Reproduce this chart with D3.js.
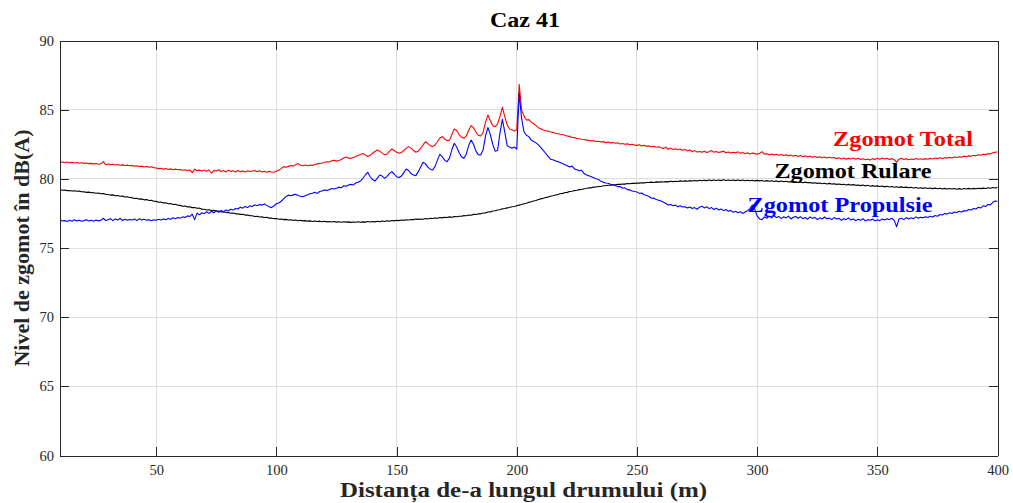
<!DOCTYPE html>
<html>
<head>
<meta charset="utf-8">
<script src="https://cdn.jsdelivr.net/npm/d3@7"></script>
<style>
  html, body { margin: 0; padding: 0; background: #fff; }
  svg { display: block; }
  text { font-family: "Liberation Serif", "Times New Roman", serif; }
</style>
</head>
<body>
<svg id="chart" width="1013" height="503"></svg>
<script>
// Distance along the road: one sample per metre, from 10 m to 400 m
const distanceStart = 10;
const distanceStep = 1;

// Total noise level, dB(A)
const totalNoise = [
  81.24, 81.21, 81.18, 81.22, 81.16, 81.19, 81.15, 81.18, 81.13, 81.16,
  81.12, 81.14, 81.10, 81.12, 81.08, 81.11, 81.06, 81.09, 81.24, 81.02,
  81.07, 81.03, 81.05, 81.00, 81.03, 80.98, 81.01, 80.96, 80.99, 80.94,
  80.97, 80.92, 80.95, 80.89, 80.92, 80.86, 80.90, 80.84, 80.87, 80.81,
  80.78, 80.74, 80.77, 80.70, 80.74, 80.67, 80.72, 80.65, 80.70, 80.66,
  80.68, 80.62, 80.66, 80.60, 80.64, 80.45, 80.70, 80.58, 80.63, 80.57,
  80.62, 80.55, 80.64, 80.42, 80.61, 80.56, 80.66, 80.53, 80.60, 80.50,
  80.62, 80.54, 80.58, 80.50, 80.60, 80.52, 80.57, 80.49, 80.58, 80.53,
  80.56, 80.60, 80.52, 80.58, 80.50, 80.55, 80.48, 80.54, 80.50, 80.47,
  80.55, 80.62, 80.74, 80.88, 80.84, 80.90, 80.96, 80.92, 81.02, 81.10,
  80.98, 80.95, 81.00, 80.94, 81.00, 80.97, 81.04, 81.08, 81.12, 81.15,
  81.20, 81.24, 81.22, 81.30, 81.35, 81.28, 81.32, 81.40, 81.50, 81.58,
  81.50, 81.48, 81.55, 81.62, 81.70, 81.76, 81.84, 81.72, 81.62, 81.70,
  81.85, 81.98, 82.08, 82.00, 81.86, 81.75, 81.78, 81.98, 82.16, 82.05,
  81.92, 81.85, 81.90, 82.05, 82.20, 82.33, 82.22, 82.05, 81.92, 82.00,
  82.20, 82.45, 82.68, 82.55, 82.40, 82.33, 82.45, 82.70, 82.95, 83.05,
  82.88, 82.76, 82.80, 83.20, 83.60, 83.50, 83.20, 83.02, 82.93, 83.10,
  83.50, 83.85, 83.70, 83.40, 83.15, 83.10, 83.35, 84.10, 84.62, 84.20,
  83.85, 83.77, 83.95, 84.50, 85.17, 84.50, 83.90, 83.60, 83.55, 83.45,
  83.55, 86.83, 84.98, 84.55, 84.25, 84.28, 84.10, 83.98, 83.85, 83.70,
  83.62, 83.53, 83.48, 83.45, 83.38, 83.36, 83.30, 83.28, 83.22, 83.20,
  83.15, 83.10, 83.05, 83.00, 82.98, 82.92, 82.90, 82.86, 82.84, 82.80,
  82.78, 82.74, 82.76, 82.70, 82.72, 82.66, 82.69, 82.62, 82.66, 82.60,
  82.62, 82.57, 82.60, 82.52, 82.56, 82.50, 82.53, 82.46, 82.50, 82.44,
  82.42, 82.46, 82.38, 82.42, 82.35, 82.38, 82.32, 82.36, 82.28, 82.32,
  82.25, 82.20, 82.28, 82.14, 82.22, 82.12, 82.18, 82.10, 82.15, 82.06,
  82.12, 82.02, 82.08, 81.96, 82.04, 81.94, 81.98, 81.92, 82.00, 81.90,
  81.96, 82.04, 81.92, 81.98, 81.90, 81.95, 82.00, 81.88, 81.94, 81.86,
  81.92, 81.88, 81.95, 81.84, 81.90, 81.82, 81.88, 81.80, 81.86, 81.82,
  81.78, 81.85, 81.96, 81.78, 81.82, 81.74, 81.80, 81.72, 81.78, 81.70,
  81.76, 81.68, 81.74, 81.66, 81.72, 81.64, 81.70, 81.62, 81.68, 81.60,
  81.66, 81.58, 81.64, 81.56, 81.62, 81.55, 81.60, 81.52, 81.58, 81.50,
  81.56, 81.50, 81.54, 81.46, 81.52, 81.44, 81.50, 81.42, 81.48, 81.44,
  81.50, 81.42, 81.48, 81.40, 81.45, 81.38, 81.44, 81.36, 81.46, 81.40,
  81.48, 81.42, 81.50, 81.44, 81.48, 81.40, 81.46, 81.38, 81.20, 81.42,
  81.48, 81.40, 81.46, 81.38, 81.44, 81.40, 81.47, 81.41, 81.45, 81.40,
  81.46, 81.42, 81.48, 81.44, 81.50, 81.46, 81.52, 81.47, 81.53, 81.50,
  81.55, 81.50, 81.58, 81.54, 81.60, 81.56, 81.64, 81.60, 81.66, 81.63,
  81.70, 81.66, 81.74, 81.70, 81.78, 81.75, 81.82, 81.80, 81.88, 81.92,
  81.95
];

// Rolling noise level, dB(A)
const rollingNoise = [
  79.20, 79.18, 79.19, 79.15, 79.16, 79.12, 79.14, 79.10, 79.11, 79.07,
  79.06, 79.02, 79.04, 78.99, 79.00, 78.96, 78.97, 78.92, 78.93, 78.88,
  78.87, 78.82, 78.84, 78.78, 78.79, 78.74, 78.75, 78.69, 78.70, 78.65,
  78.64, 78.58, 78.60, 78.53, 78.55, 78.48, 78.50, 78.43, 78.45, 78.38,
  78.37, 78.31, 78.33, 78.26, 78.27, 78.20, 78.22, 78.15, 78.16, 78.09,
  78.08, 78.02, 78.03, 77.97, 77.98, 77.92, 77.93, 77.87, 77.88, 77.81,
  77.80, 77.75, 77.77, 77.71, 77.72, 77.66, 77.67, 77.61, 77.62, 77.57,
  77.56, 77.51, 77.53, 77.47, 77.48, 77.43, 77.44, 77.38, 77.39, 77.34,
  77.33, 77.28, 77.30, 77.24, 77.25, 77.20, 77.22, 77.16, 77.17, 77.12,
  77.13, 77.08, 77.10, 77.05, 77.07, 77.02, 77.04, 77.00, 77.02, 76.97,
  77.00, 76.96, 76.98, 76.94, 76.96, 76.92, 76.95, 76.91, 76.94, 76.90,
  76.93, 76.89, 76.92, 76.88, 76.91, 76.87, 76.90, 76.86, 76.90, 76.87,
  76.89, 76.85, 76.88, 76.86, 76.90, 76.86, 76.89, 76.87, 76.91, 76.88,
  76.91, 76.89, 76.93, 76.90, 76.95, 76.92, 76.97, 76.94, 76.99, 76.96,
  77.00, 76.98, 77.02, 77.00, 77.04, 77.02, 77.06, 77.05, 77.09, 77.07,
  77.10, 77.08, 77.13, 77.10, 77.15, 77.13, 77.17, 77.15, 77.20, 77.18,
  77.22, 77.20, 77.25, 77.22, 77.27, 77.26, 77.30, 77.29, 77.34, 77.33,
  77.38, 77.37, 77.43, 77.42, 77.48, 77.47, 77.53, 77.54, 77.60, 77.61,
  77.68, 77.69, 77.75, 77.77, 77.83, 77.85, 77.90, 77.93, 77.98, 78.00,
  78.05, 78.10, 78.14, 78.20, 78.24, 78.30, 78.34, 78.40, 78.44, 78.50,
  78.55, 78.59, 78.65, 78.68, 78.74, 78.78, 78.83, 78.86, 78.92, 78.95,
  79.00, 79.02, 79.08, 79.10, 79.15, 79.17, 79.22, 79.23, 79.28, 79.30,
  79.35, 79.35, 79.40, 79.41, 79.45, 79.45, 79.50, 79.50, 79.54, 79.54,
  79.57, 79.57, 79.60, 79.60, 79.63, 79.62, 79.66, 79.65, 79.68, 79.67,
  79.70, 79.69, 79.72, 79.71, 79.74, 79.73, 79.76, 79.74, 79.78, 79.76,
  79.78, 79.77, 79.80, 79.78, 79.82, 79.80, 79.83, 79.81, 79.85, 79.82,
  79.85, 79.83, 79.87, 79.84, 79.88, 79.85, 79.90, 79.86, 79.90, 79.87,
  79.91, 79.87, 79.92, 79.88, 79.92, 79.87, 79.93, 79.88, 79.92, 79.88,
  79.91, 79.87, 79.92, 79.87, 79.91, 79.86, 79.90, 79.86, 79.90, 79.85,
  79.89, 79.85, 79.88, 79.83, 79.87, 79.82, 79.86, 79.81, 79.85, 79.80,
  79.84, 79.79, 79.82, 79.77, 79.80, 79.75, 79.79, 79.74, 79.77, 79.72,
  79.76, 79.71, 79.74, 79.69, 79.72, 79.67, 79.70, 79.65, 79.68, 79.63,
  79.67, 79.62, 79.65, 79.60, 79.63, 79.58, 79.61, 79.56, 79.60, 79.55,
  79.58, 79.53, 79.56, 79.51, 79.55, 79.49, 79.53, 79.47, 79.51, 79.46,
  79.49, 79.44, 79.48, 79.42, 79.46, 79.41, 79.44, 79.39, 79.43, 79.38,
  79.42, 79.37, 79.40, 79.35, 79.39, 79.34, 79.37, 79.32, 79.36, 79.31,
  79.35, 79.30, 79.34, 79.29, 79.33, 79.28, 79.32, 79.27, 79.31, 79.26,
  79.30, 79.26, 79.30, 79.25, 79.29, 79.25, 79.30, 79.26, 79.31, 79.27,
  79.31, 79.28, 79.32, 79.29, 79.33, 79.30, 79.35, 79.32, 79.37, 79.34,
  79.38
];

// Propulsion noise level, dB(A)
const propulsionNoise = [
  77.02, 76.95, 76.98, 76.92, 77.00, 76.94, 77.05, 76.96, 77.00, 76.93,
  76.98, 77.04, 76.95, 77.00, 76.94, 77.02, 76.96, 77.00, 77.15, 76.98,
  77.05, 77.12, 76.98, 77.10, 77.02, 77.14, 76.99, 77.08, 77.00, 77.06,
  77.02, 77.10, 76.98, 77.12, 77.03, 77.08, 77.00, 77.05, 76.97, 77.04,
  77.00, 77.08, 77.02, 77.10, 77.05, 77.14, 77.08, 77.18, 77.12, 77.20,
  77.16, 77.25, 77.20, 77.32, 77.28, 77.45, 77.05, 77.52, 77.40, 77.55,
  77.48, 77.62, 77.50, 77.66, 77.55, 77.70, 77.58, 77.72, 77.62, 77.75,
  77.68, 77.80, 77.74, 77.86, 77.82, 77.95, 77.88, 78.00, 77.92, 78.05,
  78.00, 78.12, 78.06, 78.15, 78.10, 78.18, 78.08, 77.98, 77.92, 78.05,
  78.20, 78.25, 78.38, 78.55, 78.72, 78.82, 78.78, 78.84, 78.88, 78.80,
  78.74, 78.70, 78.78, 78.85, 78.92, 78.96, 79.02, 78.95, 79.08, 79.12,
  79.20, 79.15, 79.22, 79.30, 79.27, 79.32, 79.40, 79.35, 79.50, 79.46,
  79.55, 79.60, 79.56, 79.70, 79.75, 79.85, 80.04, 80.28, 80.47, 80.15,
  79.95, 79.84, 80.05, 80.28, 80.20, 80.04, 80.16, 80.38, 80.52, 80.35,
  80.15, 80.09, 80.20, 80.45, 80.71, 80.60, 80.38, 80.28, 80.23, 80.50,
  80.85, 81.20, 81.10, 80.85, 80.70, 80.64, 80.90, 81.35, 81.77, 81.60,
  81.35, 81.24, 81.50, 82.10, 82.57, 82.30, 81.90, 81.60, 81.49, 81.80,
  82.40, 82.81, 82.50, 82.00, 81.75, 81.73, 82.10, 83.10, 83.70, 83.20,
  82.50, 82.00, 82.05, 83.30, 84.30, 83.40, 82.40, 82.30, 82.21, 82.30,
  82.15, 86.18, 84.38, 83.40, 83.15, 83.05, 82.80, 82.70, 82.60, 82.45,
  82.25, 82.05, 81.85, 81.62, 81.42, 81.38, 81.30, 81.25, 81.18, 81.10,
  81.02, 80.94, 80.86, 80.92, 80.72, 80.66, 80.58, 80.62, 80.38, 80.28,
  80.22, 80.15, 80.08, 80.00, 79.95, 79.82, 79.76, 79.70, 79.68, 79.60,
  79.55, 79.50, 79.44, 79.45, 79.32, 79.35, 79.22, 79.20, 79.12, 79.08,
  79.05, 78.95, 78.98, 78.85, 78.80, 78.72, 78.60, 78.62, 78.50, 78.45,
  78.40, 78.30, 78.22, 78.11, 78.15, 78.05, 78.10, 77.98, 78.05, 77.96,
  77.98, 77.90, 77.96, 77.85, 77.92, 77.80, 77.95, 78.02, 77.90, 77.98,
  77.85, 77.92, 77.78, 77.88, 77.75, 77.82, 77.70, 77.78, 77.65, 77.72,
  77.58, 77.66, 77.55, 77.62, 77.50, 77.60, 77.70, 77.85, 78.10, 77.80,
  77.30, 77.10, 77.05, 77.25, 77.15, 77.30, 77.18, 77.35, 77.20, 77.28,
  77.12, 77.25, 77.18, 77.30, 77.10, 77.22, 77.28, 77.15, 77.26, 77.12,
  77.20, 77.08, 77.25, 77.14, 77.22, 77.05, 77.18, 77.10, 77.24, 77.12,
  77.16, 77.05, 77.20, 77.10, 77.15, 77.00, 77.12, 77.05, 77.18, 77.02,
  77.10, 76.98, 77.08, 77.00, 77.12, 76.95, 77.05, 77.00, 77.10, 76.96,
  77.04, 76.98, 77.10, 77.02, 77.12, 77.05, 77.15, 77.00, 76.54, 77.10,
  77.15, 77.05, 77.20, 77.10, 77.18, 77.12, 77.25, 77.15, 77.22, 77.18,
  77.26, 77.20, 77.30, 77.24, 77.35, 77.30, 77.42, 77.38, 77.50, 77.45,
  77.55, 77.50, 77.60, 77.56, 77.65, 77.60, 77.70, 77.68, 77.78, 77.75,
  77.85, 77.82, 77.95, 77.90, 78.05, 78.00, 78.15, 78.12, 78.30, 78.40,
  78.38
];

const xTicks = [50, 100, 150, 200, 250, 300, 350, 400];
const yTicks = [60, 65, 70, 75, 80, 85, 90];

const seriesNames = ["Zgomot Total", "Zgomot Rulare", "Zgomot Propulsie"];
const seriesColors = ["#ff0000", "#000000", "#0000ff"];

const distance = totalNoise.map((_, i) => distanceStart + i * distanceStep);

const svg = d3.select("#chart");
const plot = { left: 60, right: 997.6, top: 40.5, bottom: 455.5 };

const x = d3.scaleLinear().domain([10, 400]).range([plot.left, plot.right]);
const y = d3.scaleLinear().domain([60, 90]).range([plot.bottom, plot.top]);

const axisColor = "#262626";
const tickLen = 9;

// grid
const grid = svg.append("g").attr("shape-rendering", "crispEdges");
grid.selectAll("line.gx").data(xTicks.filter(t => t < 400)).join("line")
  .attr("x1", d => x(d)).attr("x2", d => x(d))
  .attr("y1", plot.top).attr("y2", plot.bottom)
  .attr("stroke", "#dfdfdf").attr("stroke-width", 1);
grid.selectAll("line.gy").data(yTicks.filter(t => t > 60 && t < 90)).join("line")
  .attr("y1", d => y(d)).attr("y2", d => y(d))
  .attr("x1", plot.left).attr("x2", plot.right)
  .attr("stroke", "#dfdfdf").attr("stroke-width", 1);

// data lines
const defs = svg.append("defs");
defs.append("clipPath").attr("id", "plotClip").append("rect")
  .attr("x", plot.left).attr("y", plot.top)
  .attr("width", plot.right - plot.left).attr("height", plot.bottom - plot.top);

const line = d3.line().x((d, i) => x(distance[i])).y(d => y(d));
const lines = svg.append("g").attr("clip-path", "url(#plotClip)");
[totalNoise, rollingNoise, propulsionNoise].forEach((vals, k) => {
  lines.append("path")
    .attr("d", line(vals))
    .attr("fill", "none")
    .attr("stroke", seriesColors[k])
    .attr("stroke-width", 1.1)
    .attr("stroke-linejoin", "round");
});

// axes (box with inward ticks)
const fmt = d3.format("d");
const bottomAxis = d3.axisBottom(x).tickValues(xTicks).tickSizeInner(-tickLen).tickSizeOuter(0).tickPadding(9).tickFormat(fmt);
const topAxis = d3.axisTop(x).tickValues(xTicks).tickSizeInner(-tickLen).tickSizeOuter(0).tickFormat("");
const leftAxis = d3.axisLeft(y).tickValues(yTicks).tickSizeInner(-tickLen).tickSizeOuter(0).tickPadding(6).tickFormat(fmt);
const rightAxis = d3.axisRight(y).tickValues(yTicks).tickSizeInner(-tickLen).tickSizeOuter(0).tickFormat("");

function styleAxis(g) {
  g.attr("shape-rendering", "crispEdges");
  g.select(".domain").attr("stroke", axisColor).attr("stroke-width", 1);
  g.selectAll(".tick line").attr("stroke", axisColor).attr("stroke-width", 1);
  g.selectAll(".tick text")
    .attr("fill", axisColor)
    .style("font-family", '"Liberation Serif", "Times New Roman", serif')
    .style("font-size", "14.5px");
}

svg.append("g").attr("transform", `translate(0,${plot.bottom})`).call(bottomAxis).call(styleAxis);
svg.append("g").attr("transform", `translate(0,${plot.top})`).call(topAxis).call(styleAxis);
svg.append("g").attr("transform", `translate(${plot.left},0)`).call(leftAxis).call(styleAxis);
svg.append("g").attr("transform", `translate(${plot.right},0)`).call(rightAxis).call(styleAxis);

// title
svg.append("text")
  .attr("x", 525).attr("y", 27.3)
  .attr("text-anchor", "middle")
  .attr("font-weight", "bold").attr("font-size", 22)
  .attr("fill", "#000")
  .attr("textLength", 70).attr("lengthAdjust", "spacingAndGlyphs")
  .text("Caz 41");

// axis labels
svg.append("text")
  .attr("x", 523.5).attr("y", 496.7)
  .attr("text-anchor", "middle")
  .attr("font-weight", "bold").attr("font-size", 20)
  .attr("fill", axisColor)
  .attr("textLength", 367).attr("lengthAdjust", "spacingAndGlyphs")
  .text("Distanța de-a lungul drumului (m)");

svg.append("text")
  .attr("transform", `translate(29.3,${(plot.top + plot.bottom) / 2}) rotate(-90)`)
  .attr("text-anchor", "middle")
  .attr("font-weight", "bold").attr("font-size", 22)
  .attr("fill", axisColor)
  .text("Nivel de zgomot în dB(A)");

// series labels
const labelPos = [
  { x: 833, y: 146, w: 140 },
  { x: 774.5, y: 178, w: 157 },
  { x: 747.5, y: 211.5, w: 185 }
];
seriesNames.forEach((name, k) => {
  svg.append("text")
    .attr("x", labelPos[k].x).attr("y", labelPos[k].y)
    .attr("font-weight", "bold").attr("font-size", 21)
    .attr("fill", seriesColors[k])
    .attr("textLength", labelPos[k].w).attr("lengthAdjust", "spacingAndGlyphs")
    .text(name);
});
</script>
</body>
</html>
